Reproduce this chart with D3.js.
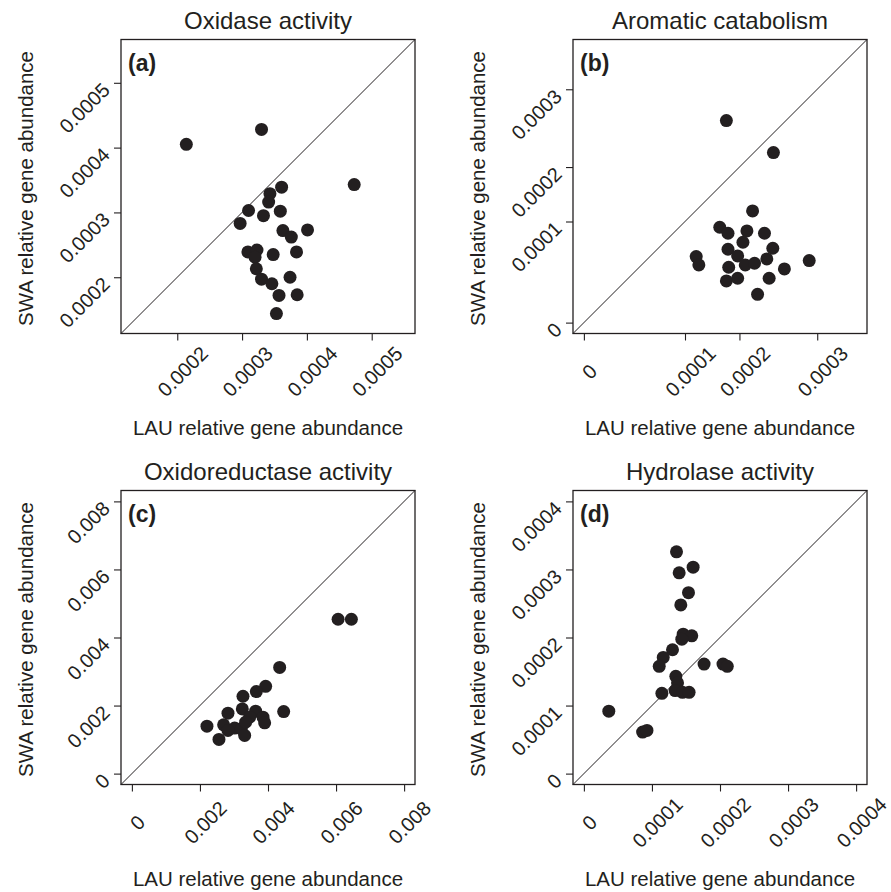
<!DOCTYPE html>
<html>
<head>
<meta charset="utf-8">
<script src="https://cdn.jsdelivr.net/npm/d3@7"></script>
<style>
  body { margin: 0; background: #fff; }
  svg text { font-family: "Liberation Sans", Arial, Helvetica, sans-serif; fill: #231f20; }
</style>
</head>
<body>
<script>
// panel titles and letters
var titles = ["Oxidase activity", "Aromatic catabolism", "Oxidoreductase activity", "Hydrolase activity"];
var letters = ["(a)", "(b)", "(c)", "(d)"];

// axis limits (before R's 4% padding)
var limA = [0.00013, 0.00055];
var limB = [0, 0.00035];
var limC = [0, 0.008];
var limD = [0, 0.0004];

// tick positions and labels
var ticksA = [0.0002, 0.0003, 0.0004, 0.0005];
var labelsA = ["0.0002", "0.0003", "0.0004", "0.0005"];
var ticksB = [0, 0.00013, 0.0002, 0.0003];
var labelsB = ["0", "0.0001", "0.0002", "0.0003"];
var ticksC = [0, 0.002, 0.004, 0.006, 0.008];
var labelsC = ["0", "0.002", "0.004", "0.006", "0.008"];
var ticksD = [0, 0.0001, 0.0002, 0.0003, 0.0004];
var labelsD = ["0", "0.0001", "0.0002", "0.0003", "0.0004"];

// (a) oxidase activity
var oxidaseLAU = [0.000214, 0.000330, 0.000473, 0.000361, 0.000343, 0.000341, 0.000310, 0.000359, 0.000333,
  0.000297, 0.000363, 0.000401, 0.000376, 0.000309, 0.000323, 0.000320, 0.000348, 0.000384, 0.000322,
  0.000330, 0.000346, 0.000374, 0.000357, 0.000385, 0.000353];
var oxidaseSWA = [0.000405, 0.000428, 0.000343, 0.000339, 0.000329, 0.000316, 0.000303, 0.000302, 0.000295,
  0.000283, 0.000272, 0.000273, 0.000262, 0.000239, 0.000242, 0.000231, 0.000235, 0.000239, 0.000213,
  0.000197, 0.000190, 0.000200, 0.000172, 0.000173, 0.000144];

// (b) aromatic catabolism
var aromaticLAU = [0.0001832, 0.0002437, 0.0002169, 0.0001747, 0.0001853, 0.0002096, 0.0002322, 0.0002045,
  0.0001853, 0.0002429, 0.0001444, 0.0001478, 0.0001977, 0.0002352, 0.0002897, 0.0002075, 0.0002194,
  0.0001862, 0.0002578, 0.0001832, 0.0001977, 0.0002382, 0.0002233];
var aromaticSWA = [0.0002597, 0.0002186, 0.0001436, 0.0001226, 0.0001149, 0.0001179, 0.0001149, 0.0001033,
  0.0000943, 0.0000956, 0.0000849, 0.0000742, 0.0000857, 0.0000819, 0.0000797, 0.0000742, 0.0000763,
  0.0000712, 0.0000690, 0.0000536, 0.0000570, 0.0000570, 0.0000364];

// (c) oxidoreductase activity
var oxidoLAU = [0.00606, 0.00645, 0.004343, 0.003931, 0.003657, 0.003265, 0.004461, 0.002824, 0.003245,
  0.003637, 0.003853, 0.003902, 0.003461, 0.002206, 0.002696, 0.003020, 0.003216, 0.002824, 0.003343,
  0.003314, 0.002559];
var oxidoSWA = [0.004537, 0.004537, 0.003122, 0.002566, 0.002410, 0.002273, 0.001824, 0.001776, 0.001902,
  0.001834, 0.001659, 0.001493, 0.001659, 0.001395, 0.001434, 0.001337, 0.001317, 0.001268, 0.001512,
  0.001122, 0.001005];

// (d) hydrolase activity
var hydroLAU = [0.0001361, 0.0001605, 0.0001400, 0.0001537, 0.0001424, 0.0001459, 0.0001585, 0.0001439,
  0.0001302, 0.0001166, 0.0001107, 0.0001766, 0.0002044, 0.0002107, 0.0001351, 0.0001376, 0.0001341,
  0.0001449, 0.0001546, 0.0001146, 0.0000366, 0.0000863, 0.0000927];
var hydroSWA = [0.0003259, 0.0003034, 0.0002951, 0.0002659, 0.0002478, 0.0002049, 0.0002024, 0.0001976,
  0.0001820, 0.0001707, 0.0001576, 0.0001610, 0.0001610, 0.0001576, 0.0001429, 0.0001332, 0.0001220,
  0.0001195, 0.0001195, 0.0001180, 0.0000917, 0.0000610, 0.0000634];

var panels = [
  { lim: limA, ticks: ticksA, labels: labelsA, xs: oxidaseLAU, ys: oxidaseSWA, left: 121, top: 39.5 },
  { lim: limB, ticks: ticksB, labels: labelsB, xs: aromaticLAU, ys: aromaticSWA, left: 573, top: 39.5 },
  { lim: limC, ticks: ticksC, labels: labelsC, xs: oxidoLAU, ys: oxidoSWA, left: 121, top: 490.5 },
  { lim: limD, ticks: ticksD, labels: labelsD, xs: hydroLAU, ys: hydroSWA, left: 573, top: 490.5 }
];

var size = 294;
var ink = "#231f20";

var svg = d3.select("body").append("svg")
  .attr("width", 891)
  .attr("height", 892);

function pad(lim) {
  var d = (lim[1] - lim[0]) * 0.04;
  return [lim[0] - d, lim[1] + d];
}

panels.forEach(function(p, i) {
  var dom = pad(p.lim);
  var x = d3.scaleLinear().domain(dom).range([0, size]);
  var y = d3.scaleLinear().domain(dom).range([size, 0]);

  var g = svg.append("g").attr("transform", "translate(" + p.left + "," + p.top + ")");

  // y axis
  var ya = g.append("g")
    .call(d3.axisLeft(y).tickValues(p.ticks).tickSize(7).tickFormat(function(d, j) { return p.labels[j]; }));
  ya.select(".domain").remove();
  ya.selectAll("line").attr("stroke", ink).attr("stroke-width", 1.1);
  ya.selectAll("text")
    .attr("x", null).attr("dy", null)
    .attr("text-anchor", "end")
    .attr("font-size", 20)
    .attr("fill", ink)
    .attr("transform", "translate(-10,8) rotate(-45)");

  // x axis
  var xa = g.append("g")
    .attr("transform", "translate(0," + size + ")")
    .call(d3.axisBottom(x).tickValues(p.ticks).tickSize(7).tickFormat(function(d, j) { return p.labels[j]; }));
  xa.select(".domain").remove();
  xa.selectAll("line").attr("stroke", ink).attr("stroke-width", 1.1);
  xa.selectAll("text")
    .attr("y", null).attr("dy", "0.35em")
    .attr("text-anchor", "middle")
    .attr("font-size", 20)
    .attr("fill", ink)
    .attr("transform", "translate(5,38) rotate(-45)");

  // 1:1 line
  g.append("line")
    .attr("x1", x(dom[0])).attr("y1", y(dom[0]))
    .attr("x2", x(dom[1])).attr("y2", y(dom[1]))
    .attr("stroke", ink).attr("stroke-width", 1);

  // points
  g.selectAll("circle").data(p.xs).enter().append("circle")
    .attr("cx", function(d) { return x(d); })
    .attr("cy", function(d, j) { return y(p.ys[j]); })
    .attr("r", 6.5)
    .attr("fill", ink);

  // box
  g.append("rect")
    .attr("width", size).attr("height", size)
    .attr("fill", "none").attr("stroke", ink).attr("stroke-width", 1.3);

  g.append("text")
    .attr("x", 7).attr("y", 31)
    .attr("font-size", 23).attr("font-weight", "bold")
    .text(letters[i]);

  g.append("text")
    .attr("x", size / 2).attr("y", -11)
    .attr("text-anchor", "middle")
    .attr("font-size", 24)
    .text(titles[i]);

  g.append("text")
    .attr("x", size / 2).attr("y", size + 101)
    .attr("text-anchor", "middle")
    .attr("font-size", 20.5)
    .text("LAU relative gene abundance");

  g.append("text")
    .attr("transform", "translate(-88," + (size / 2 + 2) + ") rotate(-90)")
    .attr("text-anchor", "middle")
    .attr("font-size", 20.5)
    .text("SWA relative gene abundance");
});
</script>
</body>
</html>
